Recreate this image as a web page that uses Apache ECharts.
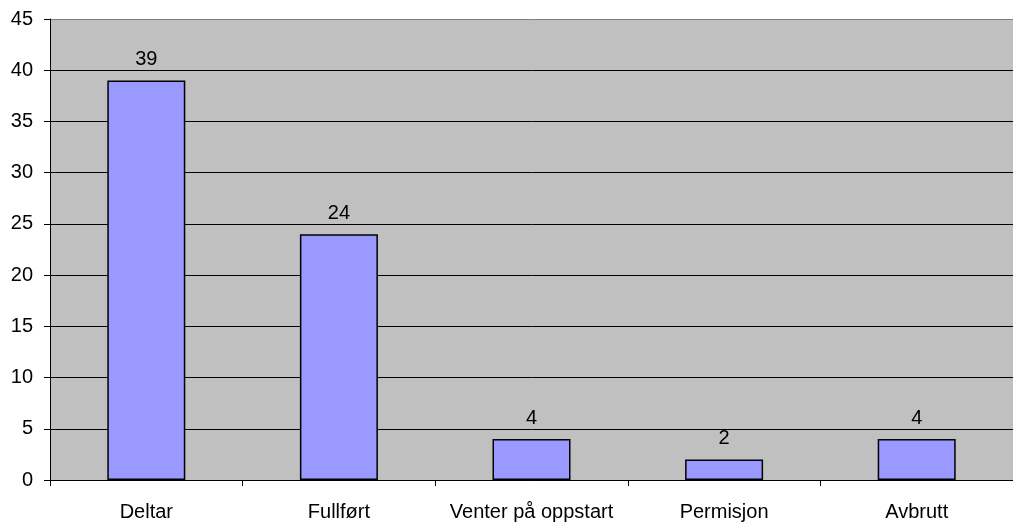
<!DOCTYPE html>
<html>
<head>
<meta charset="utf-8">
<script src="https://cdn.jsdelivr.net/npm/echarts@6/dist/echarts.min.js"></script>
<style>html,body{margin:0;padding:0;background:#fff}#c{width:1013px;height:524px}</style>
</head>
<body>
<div id="c"></div>
<script>
var categories = ['Deltar', 'Fullført', 'Venter på oppstart', 'Permisjon', 'Avbrutt'];
var values = [39, 24, 4, 2, 4];
var yTicks = [0, 5, 10, 15, 20, 25, 30, 35, 40, 45];

var chart = echarts.init(document.getElementById('c'), null, {renderer: 'canvas'});
var font = 'Arial, "Liberation Sans", sans-serif';
chart.setOption({
  animation: false,
  backgroundColor: '#fff',
  grid: {left: 50, right: 0, top: 19, bottom: 44, show: true, backgroundColor: '#C0C0C0', borderWidth: 0},
  xAxis: {
    type: 'category',
    data: categories,
    boundaryGap: true,
    axisLine: {show: true, lineStyle: {color: '#000', width: 1}},
    axisTick: {show: true, interval: 0, length: 6, lineStyle: {color: '#000'}},
    axisLabel: {interval: 0, color: '#000', fontFamily: font, fontSize: 20, margin: 22}
  },
  yAxis: {
    type: 'value',
    min: yTicks[0],
    max: yTicks[yTicks.length - 1],
    interval: 5,
    axisLine: {show: true, lineStyle: {color: '#000', width: 1}},
    axisTick: {show: true, length: 6, lineStyle: {color: '#000'}},
    axisLabel: {color: '#000', fontFamily: font, fontSize: 20, margin: 17},
    splitLine: {show: true, lineStyle: {color: ['#000','#000','#000','#000','#000','#000','#000','#000','#000','#808080'], width: 1}}
  },
  series: [{
    type: 'bar',
    data: values,
    barWidth: 78,
    itemStyle: {color: '#9999FF', borderColor: '#000', borderWidth: 1.5},
    label: {show: true, position: 'top', distance: 11, color: '#000', fontFamily: font, fontSize: 20}
  }]
});
</script>
</body>
</html>
